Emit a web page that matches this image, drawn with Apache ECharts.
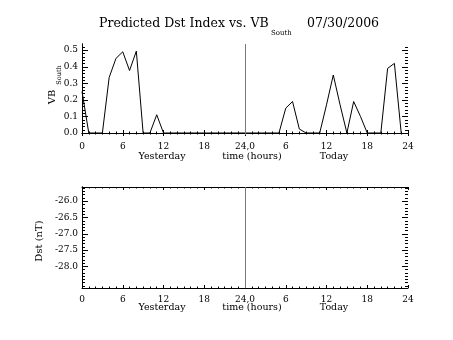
<!DOCTYPE html>
<html>
<head>
<meta charset="utf-8">
<script src="https://cdn.jsdelivr.net/npm/echarts@6/dist/echarts.min.js"></script>
<style>
  html, body { margin: 0; padding: 0; background: #fff; }
  #chart { width: 453px; height: 340px; }
</style>
</head>
<body>
<div id="chart"></div>
<script>
// Hourly VB_South values (mV/m): previous day, then current day
const vbYesterday = [0.25, 0, 0, 0, 0.335, 0.45, 0.49, 0.377, 0.494, 0, 0, 0.11,
                     0, 0, 0, 0, 0, 0, 0, 0, 0, 0, 0, 0];
const vbToday     = [0, 0, 0, 0, 0, 0, 0.15, 0.19, 0.024, 0, 0, 0,
                     0.17, 0.35, 0.17, 0, 0.19, 0.1, 0, 0, 0, 0.39, 0.42, 0];
// Predicted Dst (nT): no values available for this date
const dstValues = [];

// Tick labels along the 48-hour time axis
const hourTicks  = [0, 6, 12, 18, 24, 30, 36, 42, 48];
const hourLabels = ['0', '6', '12', '18', '24,0', '6', '12', '18', '24'];

// Vertical ranges and labelled tick values of the two panels
const vbRange  = [-0.012, 0.537];
const vbTicks  = [0, 0.1, 0.2, 0.3, 0.4, 0.5];
const dstRange = [-28.67, -25.57];
const dstTicks = [-26.0, -26.5, -27.0, -27.5, -28.0];

const vbSeries = vbYesterday.map((v, h) => [h, v])
  .concat(vbToday.map((v, h) => [h + 24, v]));

const FONT = 'DejaVu Serif';
const INK = '#000';

function steps(a, b, step) {
  const out = [];
  const n = Math.round((b - a) / step);
  for (let i = 0; i <= n; i++) out.push(Math.round((a + i * step) * 10000) / 10000);
  return out;
}

const panels = [
  { top: 44,  height: 91,  range: vbRange,  major: vbTicks,  minor: steps(0, 0.52, 0.02) },
  { top: 187, height: 101, range: dstRange, major: dstTicks, minor: steps(-28.6, -25.6, 0.1) }
];

const grids = [], xAxis = [], yAxis = [];
panels.forEach(p => {
  const g = grids.length;
  grids.push({ left: 82, width: 326, top: p.top, height: p.height });
  ['bottom', 'top'].forEach(pos => xAxis.push({
    gridIndex: g, type: 'value', min: 0, max: 48, interval: 6, position: pos,
    axisLine: { show: true, lineStyle: { color: INK, width: 1 } },
    axisTick: { show: true, inside: true, length: 3, lineStyle: { color: INK } },
    minorTick: { show: true, splitNumber: 6, length: 1.5, lineStyle: { color: INK } },
    splitLine: { show: false },
    axisLabel: pos === 'bottom'
      ? { show: true, margin: 7, fontFamily: FONT, fontSize: 9, color: INK,
          formatter: v => hourLabels[hourTicks.indexOf(v)] || '' }
      : { show: false }
  }));
  p.xIndex = xAxis.length - 2;
  ['left', 'right'].forEach(pos => yAxis.push({
    gridIndex: g, type: 'value', min: p.range[0], max: p.range[1], position: pos,
    axisLine: { show: true, lineStyle: { color: INK, width: 1 } },
    axisTick: { show: false }, axisLabel: { show: false }, splitLine: { show: false }
  }));
  p.yIndex = yAxis.length - 2;
});

const dayDivider = {
  silent: true, symbol: 'none', label: { show: false },
  lineStyle: { color: '#7a7a7a', width: 1, type: 'solid' },
  data: [{ xAxis: 24 }]
};

function text(x, y, str, size, opts) {
  return {
    type: 'text', x: x, y: y, silent: true,
    style: Object.assign({ text: str, font: size + 'px "' + FONT + '"', fill: INK,
      align: 'center', verticalAlign: 'middle' }, opts || {})
  };
}
function seg(x1, y1, x2, y2) {
  return { type: 'line', silent: true, shape: { x1: x1, y1: y1, x2: x2, y2: y2 },
           style: { stroke: INK, lineWidth: 1 } };
}

const captions = [
  // title
  text(99, 24, 'Predicted Dst Index vs. VB', 12.5, { align: 'left' }),
  text(271, 33, 'South', 7, { align: 'left' }),
  text(307, 24, '07/30/2006', 12.5, { align: 'left' }),
  // upper panel axis captions
  text(162, 157, 'Yesterday', 9.5),
  text(252, 157, 'time (hours)', 9.5),
  text(334, 157, 'Today', 9.5),
  Object.assign(text(52, 97, 'VB', 10), { rotation: Math.PI / 2 }),
  Object.assign(text(59, 75, 'South', 6.5), { rotation: Math.PI / 2 }),
  // lower panel axis captions
  text(162, 308, 'Yesterday', 9.5),
  text(252, 308, 'time (hours)', 9.5),
  text(334, 308, 'Today', 9.5),
  Object.assign(text(39, 241, 'Dst (nT)', 10), { rotation: Math.PI / 2 })
];

const chart = echarts.init(document.getElementById('chart'), null, { renderer: 'canvas' });
chart.setOption({
  animation: false,
  backgroundColor: '#fff',
  grid: grids,
  xAxis: xAxis,
  yAxis: yAxis,
  series: [
    {
      type: 'line', xAxisIndex: panels[0].xIndex, yAxisIndex: panels[0].yIndex, data: vbSeries,
      showSymbol: false, symbol: 'none',
      lineStyle: { color: INK, width: 1 },
      markLine: dayDivider
    },
    {
      type: 'line', xAxisIndex: panels[1].xIndex, yAxisIndex: panels[1].yIndex, data: dstValues,
      showSymbol: false, symbol: 'none',
      lineStyle: { color: INK, width: 1 },
      markLine: dayDivider
    }
  ],
  graphic: captions
});

// value-axis ticks (inside, on both sides) and labels, placed through each panel's y scale
const decor = [];
panels.forEach(p => {
  const px = v => chart.convertToPixel({ xAxisIndex: p.xIndex }, v);
  const py = v => chart.convertToPixel({ yAxisIndex: p.yIndex }, v);
  const xl = Math.round(px(0)), xr = Math.round(px(48));
  const tick = (v, len) => {
    const y = Math.round(py(v)) + 0.5;
    decor.push(seg(xl, y, xl + len, y), seg(xr - len, y, xr, y));
  };
  p.minor.forEach(v => tick(v, 3));
  p.major.forEach(v => {
    tick(v, 6);
    decor.push(text(xl - 4, py(v), v.toFixed(1), 9, { align: 'right' }));
  });
});
chart.setOption({ graphic: captions.concat(decor) });
</script>
</body>
</html>
